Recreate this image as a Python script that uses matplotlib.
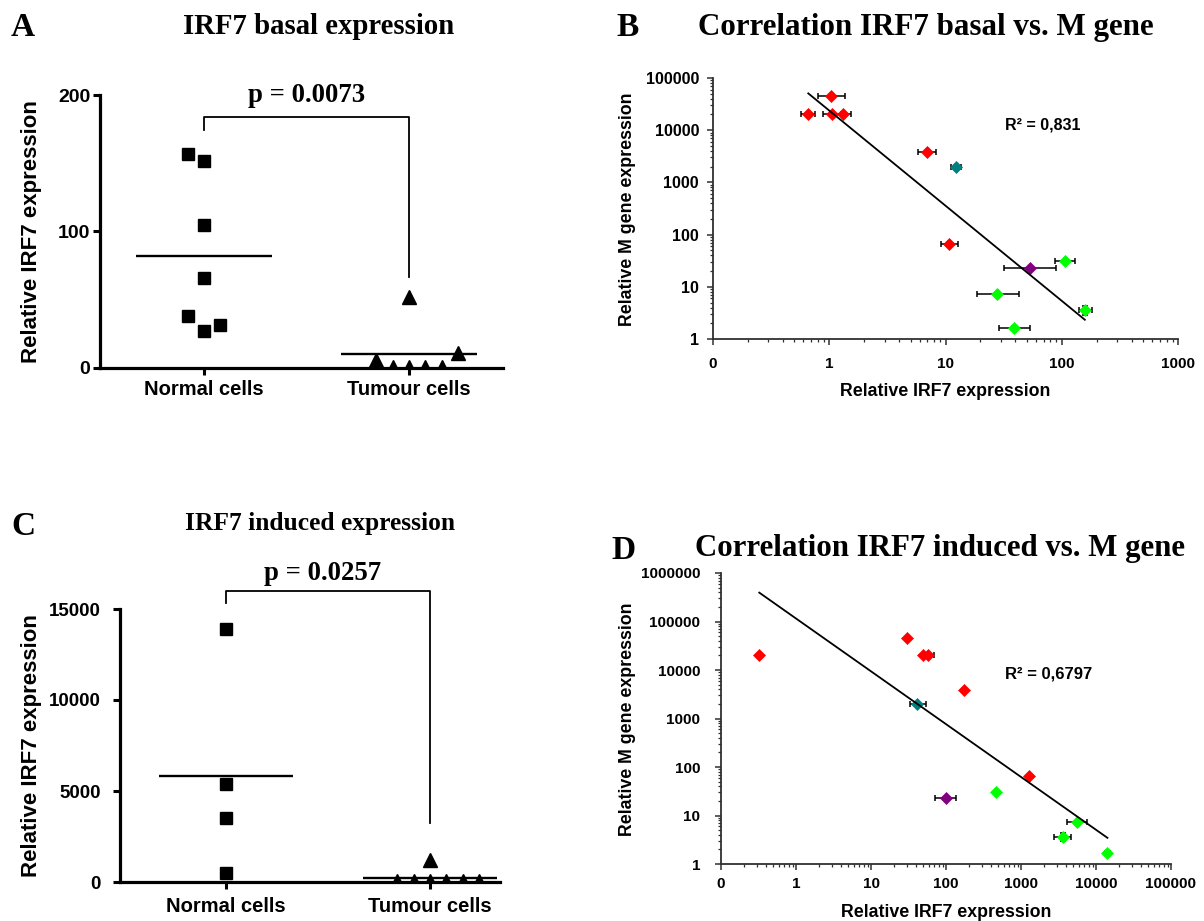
import numpy as np
import matplotlib
matplotlib.use("Agg")
import matplotlib.pyplot as plt
from matplotlib.ticker import FixedLocator, FixedFormatter, LogLocator, NullFormatter

# ---------------------------------------------------------------- data
categories = ["Normal cells", "Tumour cells"]

# IRF7 basal expression (relative)
basal_normal = [157, 152, 105, 66, 38, 27, 31.5]
basal_tumour = [52, 6, 0.8, 0.5, 0.6, 0.7, 11]
basal_p = "p = 0.0073"

# IRF7 induced expression (relative)
induced_normal = [13900, 5385, 3516, 495]
induced_tumour = [1209, 60, 40, 30, 80, 50, 62]
induced_p = "p = 0.0257"

# cell lines used for the correlations (same order in every list)
line_colors = ["#FF0000"] * 6 + ["#008080", "#800080"] + ["#00FF00"] * 4
m_gene = [45000, 20500, 20500, 20500, 3800, 65, 1980, 23.3, 31, 7.25, 3.63, 1.65]
m_gene_err = [0, 0, 0, 0, 0, 0, 0, 0, 0, 0, 0.7, 0.15]

irf7_basal = [1.04, 0.66, 1.06, 1.32, 7.0, 10.8, 12.2, 53, 106, 28, 158, 38.5]
irf7_basal_err_lo = [0.24, 0.09, 0.17, 0.22, 1.15, 1.6, 1.0, 21, 19, 9.5, 18, 9.9]
irf7_basal_err_hi = [0.33, 0.10, 0.19, 0.23, 1.3, 1.9, 1.5, 35.6, 23, 14.6, 23, 14.5]
r2_basal = "R² = 0,831"

irf7_induced = [29.9, 0.324, 49.9, 57.5, 172, 1280, 41.5, 99, 464, 5520, 3600, 14200]
irf7_induced_err_lo = [0, 0, 0, 10, 0, 0, 8.5, 27, 0, 1420, 850, 1200]
irf7_induced_err_hi = [0, 0, 0, 12, 0, 0, 12, 37, 0, 2030, 1040, 1400]
r2_induced = "R² = 0,6797"

# horizontal scatter of the dots inside a category column
basal_normal_jitter = [-0.08, 0, 0, 0, -0.08, 0, 0.08]
basal_tumour_jitter = [0, -0.16, -0.08, 0, 0.08, 0.16, 0.24]
induced_normal_jitter = [0, 0, 0, 0]
induced_tumour_jitter = [0, -0.16, -0.08, 0, 0.08, 0.16, 0.24]

# ---------------------------------------------------------------- figure
W, H = 1204, 921
plt.rcParams["font.family"] = "Liberation Sans"
plt.rcParams["font.weight"] = "bold"
SERIF = "Liberation Serif"

fig = plt.figure(figsize=(W / 100, H / 100), dpi=100)


def box(l, t, r, b):
    return [l / W, 1 - b / H, (r - l) / W, (b - t) / H]


def at(x, y):
    return x / W, 1 - y / H


def dot_panel(ax, normal, tumour, nj, tj, ylim, yticks, ysize, ypad, xpad):
    ax.plot(np.add(0, nj), normal, "s", ms=8.5, color="black", clip_on=True)
    ax.plot(np.add(1, tj), tumour, "^", ms=9.5, color="black", clip_on=True)
    for i, vals in enumerate([normal, tumour]):
        ax.hlines(np.mean(vals), i - 0.33, i + 0.33, color="black", lw=1.7)
    ax.set_ylim(*ylim)
    ax.set_xticks([0, 1])
    ax.set_xticklabels(categories)
    ax.set_yticks(yticks)
    for s in ["top", "right"]:
        ax.spines[s].set_visible(False)
    for s in ["left", "bottom"]:
        ax.spines[s].set_linewidth(2.3)
    ax.tick_params(axis="x", direction="out", length=5, width=2.2,
                   labelsize=14.5, pad=xpad)
    ax.tick_params(axis="y", direction="out", length=5, width=2.2,
                   labelsize=ysize, pad=ypad)


def corr_panel(ax, xvals, xlo, xhi, xlim, xticks, ylim, yticks, ysize, ypad, xpad):
    x = np.array(xvals, float)
    y = np.array(m_gene, float)
    lo = np.array(xlo, float)
    hi = np.array(xhi, float)
    ye = np.array(m_gene_err, float)
    hx = (lo > 0) | (hi > 0)
    ax.errorbar(x[hx], y[hx], xerr=[lo[hx], hi[hx]], fmt="none", ecolor="black",
                elinewidth=1.1, capsize=2.2, capthick=1.1, zorder=2)
    hy = ye > 0
    ax.errorbar(x[hy], y[hy], yerr=ye[hy], fmt="none", ecolor="black",
                elinewidth=1.1, capsize=2.2, capthick=1.1, zorder=2)
    for xi, yi, c in zip(x, y, line_colors):
        ax.plot(xi, yi, "D", ms=6.5, color=c, mec=c, mew=0.5, zorder=3)
    # power-law trend line over the data range
    k, b = np.polyfit(np.log10(x), np.log10(y), 1)
    xs = np.array([x.min(), x.max()])
    ax.plot(xs, 10 ** (k * np.log10(xs) + b), color="black", lw=1.3, zorder=4)

    ax.set_xscale("log")
    ax.set_yscale("log")
    ax.set_xlim(*xlim)
    ax.set_ylim(*ylim)
    ax.xaxis.set_major_locator(FixedLocator(xticks))
    ax.xaxis.set_major_formatter(FixedFormatter(["0"] + [str(int(v)) for v in xticks[1:]]))
    ax.yaxis.set_major_locator(FixedLocator(yticks))
    ax.yaxis.set_major_formatter(FixedFormatter([str(int(v)) for v in yticks]))
    for axis in (ax.xaxis, ax.yaxis):
        axis.set_minor_locator(LogLocator(base=10, subs=np.arange(2, 10), numticks=20))
        axis.set_minor_formatter(NullFormatter())
    for s in ["top", "right"]:
        ax.spines[s].set_visible(False)
    for s in ["left", "bottom"]:
        ax.spines[s].set_linewidth(1.3)
        ax.spines[s].set_color("#303030")
    ax.tick_params(which="major", direction="out", length=4, width=1.1, color="#303030")
    ax.tick_params(which="minor", direction="out", length=2.5, width=0.9, color="#303030")
    ax.tick_params(axis="x", labelsize=11, pad=xpad)
    ax.tick_params(axis="y", labelsize=ysize, pad=ypad)


# ---- A: basal expression
axA = fig.add_axes(box(100, 95, 503, 368))
axA.set_xlim(-0.507, 1.459)
dot_panel(axA, basal_normal, basal_tumour, basal_normal_jitter, basal_tumour_jitter,
          (0, 200), [0, 100, 200], 14, 2, 3.5)
axA.plot([0, 0, 1, 1], [174, 184, 184, 67], color="black", lw=1.3, clip_on=False)

# ---- C: induced expression
axC = fig.add_axes(box(120, 609, 500, 882))
axC.set_xlim(-0.52, 1.343)
dot_panel(axC, induced_normal, induced_tumour, induced_normal_jitter, induced_tumour_jitter,
          (0, 15000), [0, 5000, 10000, 15000], 13.5, 9, 6)
axC.plot([0, 0, 1, 1], [15330, 16000, 16000, 3240], color="black", lw=1.3, clip_on=False)

# ---- B: correlation basal vs M gene
axB = fig.add_axes(box(713, 78, 1178, 339))
corr_panel(axB, irf7_basal, irf7_basal_err_lo, irf7_basal_err_hi,
           (0.1, 1000), [0.1, 1, 10, 100, 1000],
           (1, 1e5), [1, 10, 100, 1000, 10000, 100000], 11.5, 6, 9)

# ---- D: correlation induced vs M gene
axD = fig.add_axes(box(721, 573, 1171, 864))
corr_panel(axD, irf7_induced, irf7_induced_err_lo, irf7_induced_err_hi,
           (0.1, 1e5), [0.1, 1, 10, 100, 1000, 10000, 100000],
           (1, 1e6), [1, 10, 100, 1000, 10000, 100000, 1000000], 11, 11, 5)

# ---------------------------------------------------------------- text
title_kw = dict(family=SERIF, weight="bold", ha="center", va="center")
letter_kw = dict(family=SERIF, weight="bold", ha="center", va="center", size=24)

fig.text(*at(23, 28), "A", **letter_kw)
fig.text(*at(319, 27), "IRF7 basal expression", size=20.7, **title_kw)
fig.text(*at(628, 28), "B", **letter_kw)
fig.text(*at(926, 27), "Correlation IRF7 basal vs. M gene", size=22.3, **title_kw)
fig.text(*at(23, 526), "C", **letter_kw)
fig.text(*at(320, 523), "IRF7 induced expression", size=18.4, **title_kw)
fig.text(*at(624, 550), "D", **letter_kw)
fig.text(*at(940, 548), "Correlation IRF7 induced vs. M gene", size=22.2, **title_kw)

fig.text(*at(307, 96), basal_p, family=SERIF, weight="bold", size=19.3,
         ha="center", va="center")
fig.text(*at(323, 573), induced_p, family=SERIF, weight="bold", size=19.3,
         ha="center", va="center")

fig.text(*at(32, 232), "Relative IRF7 expression", size=16, rotation=90,
         ha="center", va="center")
fig.text(*at(32, 746), "Relative IRF7 expression", size=16, rotation=90,
         ha="center", va="center")

fig.text(*at(627, 209), "Relative M gene expression", size=12.8, rotation=90,
         ha="center", va="center")
fig.text(*at(945, 392), "Relative IRF7 expression", size=12.8,
         ha="center", va="center")
fig.text(*at(627, 719), "Relative M gene expression", size=12.8, rotation=90,
         ha="center", va="center")
fig.text(*at(946, 912), "Relative IRF7 expression", size=12.8,
         ha="center", va="center")

fig.text(*at(1005, 125), r2_basal, size=11.5, ha="left", va="center")
fig.text(*at(1005, 674), r2_induced, size=12, ha="left", va="center")

fig.savefig("out.png", dpi=100)
